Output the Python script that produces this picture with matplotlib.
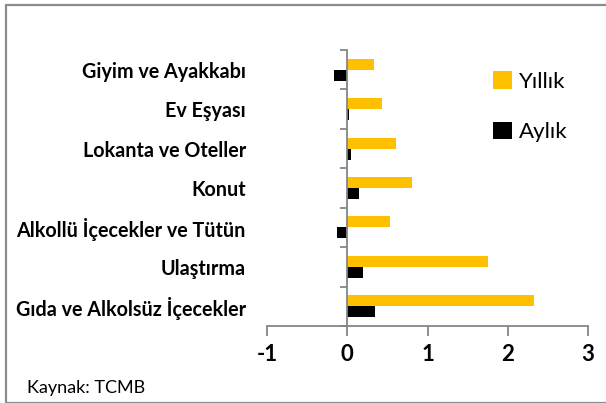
import numpy as np
import matplotlib.pyplot as plt
from matplotlib.patches import Rectangle

# categories, bottom to top
categories = ["Gıda ve Alkolsüz İçecekler", "Ulaştırma", "Alkollü İçecekler ve Tütün",
              "Konut", "Lokanta ve Oteller", "Ev Eşyası", "Giyim ve Ayakkabı"]
yillik = [2.33, 1.76, 0.53, 0.81, 0.61, 0.43, 0.33]
aylik = [0.35, 0.20, -0.13, 0.15, 0.05, 0.02, -0.17]
xticks = [-1, 0, 1, 2, 3]

plt.rcParams['font.family'] = ['Lato', 'DejaVu Sans']

fig = plt.figure(figsize=(6.06, 4.03), dpi=100)
W, H = 606, 403
ax = fig.add_axes([267 / W, 1 - 326 / H, (588 - 267) / W, (326 - 50) / H])

y = np.arange(len(categories))
h = 0.28
ax.barh(y + h / 2, yillik, height=h, color='#FFC000', label='Yıllık')
ax.barh(y - h / 2, aylik, height=h, color='#000000', label='Aylık')

ax.set_xlim(-1, 3)
ax.set_ylim(-0.5, len(categories) - 0.5)

grey = '#868686'
for s in ['top', 'right']:
    ax.spines[s].set_visible(False)
ax.spines['left'].set_position(('data', 0))
ax.spines['left'].set_color(grey)
ax.spines['bottom'].set_color(grey)
ax.spines['left'].set_linewidth(1.3)
ax.spines['bottom'].set_linewidth(1.3)

ax.set_xticks(xticks)
ax.set_xticklabels([str(v) for v in xticks], fontsize=16, fontweight='bold')
ax.tick_params(axis='x', direction='out', length=7, width=1.3, color=grey, pad=6)

ax.set_yticks(y)
ax.set_yticklabels(categories, fontsize=14.2, fontweight='bold')
ax.set_yticks(np.arange(-0.5, len(categories)), minor=True)
ax.tick_params(axis='y', which='major', length=0, pad=73)
ax.tick_params(axis='y', which='minor', direction='out', length=5, width=1.3, color=grey)

leg = fig.legend(loc='upper left', bbox_to_anchor=(493 / W, 1 - 71 / H), frameon=False,
                 fontsize=16, handlelength=0.85, handleheight=0.85, labelspacing=1.35,
                 handletextpad=0.3, borderpad=0, borderaxespad=0)

fig.text(27 / W, 1 - 388 / H, "Kaynak: TCMB", fontsize=13, va='center', ha='left')

fig.patches.append(Rectangle((6 / W, 0.0), 1.2, 1 - 5 / H - 0.0, transform=fig.transFigure,
                             fill=False, edgecolor='#8c8c8c', linewidth=1.6))

fig.savefig('out.png', dpi=100)
